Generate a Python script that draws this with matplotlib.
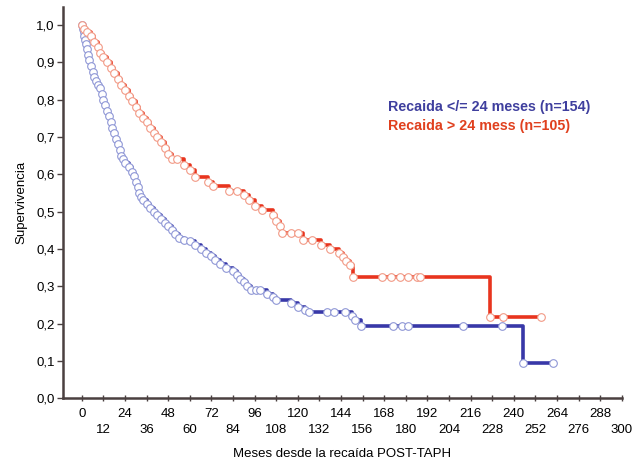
import matplotlib
matplotlib.use("Agg")
import matplotlib.pyplot as plt
from matplotlib.ticker import FuncFormatter

plt.rcParams['font.family'] = ['Liberation Sans', 'DejaVu Sans']

# Kaplan-Meier estimates: event times (months) and survival after each step
blue_t = [0.5, 1, 1.5, 2, 2.5, 3, 3.5, 4, 5, 6, 7, 8, 9, 10, 11, 12, 13, 14, 15, 16,
          17, 18, 19, 20, 21, 22, 23, 24, 26, 28, 29, 30, 31, 32, 33, 34, 36, 38, 40,
          42, 44, 46, 48, 50, 52, 54, 57, 60, 63, 66, 69, 72, 74, 77, 80, 84, 86, 88,
          90, 92, 94, 103, 106, 108, 116, 120, 124, 126, 150, 152, 155, 245]
blue_s = [0.99, 0.98, 0.97, 0.96, 0.95, 0.935, 0.92, 0.905, 0.89, 0.875, 0.86, 0.85,
          0.84, 0.83, 0.815, 0.80, 0.785, 0.77, 0.755, 0.74, 0.725, 0.71, 0.695, 0.68,
          0.665, 0.65, 0.64, 0.63, 0.62, 0.607, 0.595, 0.58, 0.565, 0.55, 0.54, 0.53,
          0.52, 0.51, 0.50, 0.49, 0.48, 0.47, 0.46, 0.45, 0.44, 0.43, 0.425, 0.42, 0.41,
          0.40, 0.39, 0.38, 0.37, 0.36, 0.35, 0.34, 0.33, 0.32, 0.31, 0.30, 0.29, 0.28,
          0.27, 0.263, 0.255, 0.245, 0.235, 0.23, 0.22, 0.21, 0.193, 0.095]
blue_cens = [97, 99, 136, 140, 146, 173, 178, 181, 212, 233.5]
blue_end = 262

red_t = [1, 3, 5, 7, 9, 10, 12, 14, 16, 18, 20, 22, 24, 26, 28, 30, 32, 34, 36, 38,
         40, 42, 44, 46, 48, 50, 57, 60, 63, 70, 73, 82, 90, 93, 96, 100, 106, 108,
         110, 111, 123, 133, 138, 143, 145, 147, 149, 150.5, 227]
red_s = [0.99, 0.98, 0.97, 0.955, 0.94, 0.925, 0.915, 0.90, 0.885, 0.87, 0.855, 0.84,
         0.825, 0.81, 0.795, 0.78, 0.765, 0.75, 0.74, 0.725, 0.71, 0.70, 0.685, 0.67,
         0.655, 0.64, 0.625, 0.61, 0.593, 0.58, 0.568, 0.556, 0.545, 0.53, 0.515,
         0.504, 0.49, 0.475, 0.46, 0.442, 0.424, 0.41, 0.40, 0.39, 0.379, 0.368, 0.357,
         0.325, 0.217]
red_cens = [53, 86, 116, 120, 128, 167, 172, 177, 181.5, 186, 188, 234]
red_end = 255

blue_label = "Recaida </= 24 meses (n=154)"
red_label = "Recaida > 24 mess (n=105)"

x_ticks = list(range(0, 301, 12))
y_ticks = [i / 10 for i in range(11)]


def step_value(times, surv, x):
    v = 1.0
    for t, s in zip(times, surv):
        if t <= x:
            v = s
    return v


def draw_curve(ax, times, surv, cens, end, line_color, edge_color):
    xs = [0] + times + [end]
    ys = [1.0] + surv + [surv[-1]]
    ax.step(xs, ys, where='post', color=line_color, lw=2.6, zorder=2,
            solid_capstyle='butt')
    mx = [0] + times + cens + [end]
    my = [1.0] + surv + [step_value(times, surv, c) for c in cens] + [surv[-1]]
    ax.plot(mx, my, ls='none', marker='o', ms=5.5, mfc='white', mec=edge_color,
            mew=0.8, zorder=3)


fig = plt.figure(figsize=(6.43, 4.63), dpi=100)
ax = fig.add_axes([0.098, 0.140, 0.869, 0.845])

draw_curve(ax, blue_t, blue_s, blue_cens, blue_end, '#3838a8', '#8f97d6')
draw_curve(ax, red_t, red_s, red_cens, red_end, '#e8341e', '#f29a86')

ax.set_xlim(-10.4, 300)
ax.set_ylim(0, 1.048)

for side in ('top', 'right'):
    ax.spines[side].set_visible(False)
for side in ('left', 'bottom'):
    ax.spines[side].set_color('#4a4040')
    ax.spines[side].set_linewidth(1.8)

ax.set_yticks(y_ticks)
ax.yaxis.set_major_formatter(FuncFormatter(lambda v, p: f"{v:.1f}".replace('.', ',')))
ax.set_xticks(x_ticks)
ax.set_xticklabels([str(v) if i % 2 == 0 else "\n" + str(v)
                    for i, v in enumerate(x_ticks)])
ax.tick_params(axis='x', direction='inout', length=4, width=1, color='#4a4040',
               labelsize=9.5, pad=5)
ax.tick_params(axis='y', direction='out', length=4, width=1, color='#4a4040',
               labelsize=9.5, pad=2)
for lab in ax.get_xticklabels():
    lab.set_linespacing(1.45)

ax.set_ylabel("Supervivencia", fontsize=9.5, labelpad=6)
ax.set_xlabel("Meses desde la recaída POST-TAPH", fontsize=9.5, labelpad=9)

fig.text(0.603, 0.769, blue_label, color='#3f3f9e',
         fontsize=10.3, fontweight='bold', va='center', ha='left')
fig.text(0.603, 0.728, red_label, color='#e0401e',
         fontsize=10.3, fontweight='bold', va='center', ha='left')

fig.savefig("out.png", dpi=100)
